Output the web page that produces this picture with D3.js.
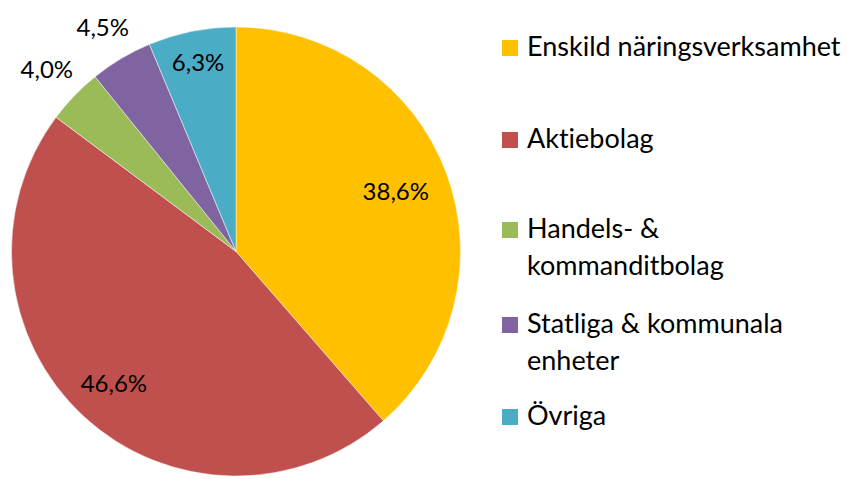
<!DOCTYPE html>
<html><head><meta charset="utf-8">
<script src="https://cdn.jsdelivr.net/npm/d3@7"></script>
<style>html,body{margin:0;padding:0;background:#fff;}svg{display:block;font-family:Lato,"Open Sans",sans-serif;font-variant-ligatures:none;}</style>
</head><body>
<svg id="c" width="846" height="479"></svg>
<script>
const categories = ["Enskild näringsverksamhet", "Aktiebolag", "Handels- & kommanditbolag", "Statliga & kommunala enheter", "Övriga"];
const legendLines = [["Enskild näringsverksamhet"], ["Aktiebolag"], ["Handels- &", "kommanditbolag"], ["Statliga & kommunala", "enheter"], ["Övriga"]];
const values = [38.6, 46.6, 4.0, 4.5, 6.3];
const valueLabels = ["38,6%", "46,6%", "4,0%", "4,5%", "6,3%"];
const colors = ["#FFC000", "#C0504D", "#9BBB59", "#8064A2", "#4BACC6"];
// label radius as fraction of pie radius (layout)
const labelRadiusFactor = [0.76, 0.80, 1.17, 1.16, 0.86];

const svg = d3.select("#c");
const cx = 236, cy = 251.5, R = 224.5;
const g = svg.append("g").attr("transform", `translate(${cx},${cy})`);
const pie = d3.pie().sort(null).value(d => d)(values);
const arc = d3.arc().innerRadius(0).outerRadius(R);
g.selectAll("path").data(pie).join("path")
  .attr("d", arc).attr("fill", (d, i) => colors[i])
  .attr("stroke", "rgba(255,255,255,0.6)").attr("stroke-width", 0.8);

g.selectAll("text.lbl").data(pie).join("text").attr("class", "lbl")
  .attr("transform", (d, i) => {
    const a = (d.startAngle + d.endAngle) / 2;
    const r = R * labelRadiusFactor[i];
    return `translate(${r * Math.sin(a)},${-r * Math.cos(a)})`;
  })
  .attr("text-anchor", "middle").attr("dy", "0.35em")
  .attr("font-size", 24).attr("fill", "#000")
  .text((d, i) => valueLabels[i]);

const legY = [56, 148, 238, 333, 425];
const lg = svg.append("g");
legendLines.forEach((lines, i) => {
  lg.append("rect").attr("x", 502).attr("y", legY[i] - 16).attr("width", 16).attr("height", 16).attr("fill", colors[i]);
  const t = lg.append("text").attr("x", 527).attr("y", legY[i]).attr("font-size", 27).attr("fill", "#000");
  lines.forEach((l, j) => t.append("tspan").attr("x", 527).attr("dy", j === 0 ? 0 : 37).text(l));
});
</script>
</body></html>
